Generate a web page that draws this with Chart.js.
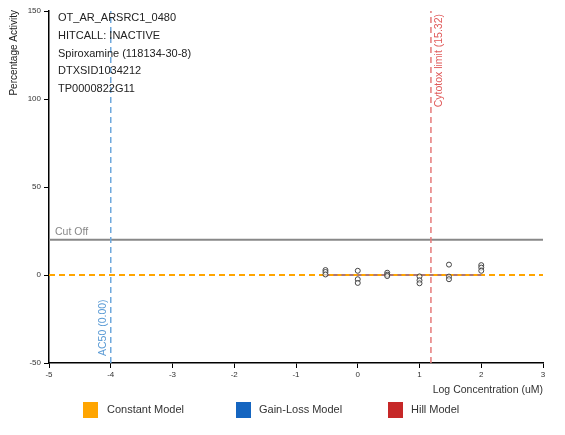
<!DOCTYPE html>
<html>
<head>
<meta charset="utf-8">
<script src="https://cdn.jsdelivr.net/npm/chart.js@4"></script>
<style>
html,body{margin:0;padding:0;background:#fff;}
#wrap{position:relative;width:565px;height:435px;}
</style>
</head>
<body>
<div id="wrap"><canvas id="c" width="565" height="435"></canvas></div>
<script>
// ---- data ----
const concLog = [-0.523, -0.523, -0.523, 0, 0, 0, 0.477, 0.477, 0.477, 1, 1, 1, 1.477, 1.477, 1.477, 2, 2, 2];
const responses = [2.8, 1.7, 0.3, 2.4, -2.4, -4.5, 1.3, 0.2, -0.6, -0.8, -3.0, -4.7, 5.9, -0.9, -2.4, 5.6, 4.2, 2.4];
const constantModelX = [-5, 3];
const constantModelY = [0, 0];
const fitLineX = [-0.523, 2];
const fitLineY = [0, 0];
const cutoffValue = 20;
const ac50Log = -4;
const ac50Label = "AC50 (0.00)";
const cytotoxLimit = 15.32;
const cytotoxLabel = "Cytotox limit (15.32)";
const xTicks = [-5, -4, -3, -2, -1, 0, 1, 2, 3];
const yTicks = [-50, 0, 50, 100, 150];
const infoLines = ["OT_AR_ARSRC1_0480", "HITCALL: INACTIVE", "Spiroxamine (118134-30-8)", "DTXSID1034212", "TP0000822G11"];
const legendLabels = ["Constant Model", "Gain-Loss Model", "Hill Model"];
const legendColors = ["#FFA500", "#1565C0", "#C62828"];

const FONT = "'Liberation Sans', Arial, sans-serif";
const xMin = xTicks[0], xMax = xTicks[xTicks.length - 1];
const yMin = yTicks[0], yMax = yTicks[yTicks.length - 1];
const cytoLog = Math.log10(cytotoxLimit);

const points = concLog.map((x, i) => ({x: x, y: responses[i]}));

const textPlugin = {
  id: 'texts',
  afterDraw(chart) {
    const ctx = chart.ctx;
    const xs = chart.scales.x, ys = chart.scales.y;
    ctx.save();
    // info block
    ctx.fillStyle = '#222';
    ctx.font = '11px ' + FONT;
    ctx.textBaseline = 'middle';
    ctx.textAlign = 'left';
    infoLines.forEach((t, i) => ctx.fillText(t, 58, 18 + i * 17.8));
    // cut off label
    ctx.fillStyle = '#888';
    ctx.font = '10.5px ' + FONT;
    ctx.fillText('Cut Off', xs.left + 6, ys.getPixelForValue(cutoffValue) - 8);
    // AC50 label
    ctx.save();
    ctx.translate(xs.getPixelForValue(ac50Log) - 8, ys.bottom - 7);
    ctx.rotate(-Math.PI / 2);
    ctx.fillStyle = '#5b9bd5';
    ctx.textAlign = 'left';
    ctx.fillText(ac50Label, 0, 0);
    ctx.restore();
    // Cytotox label
    ctx.save();
    ctx.translate(xs.getPixelForValue(cytoLog) + 8, ys.top + 3);
    ctx.rotate(-Math.PI / 2);
    ctx.fillStyle = '#e05a5a';
    ctx.textAlign = 'right';
    ctx.fillText(cytotoxLabel, 0, 0);
    ctx.restore();
    // y title
    ctx.save();
    ctx.translate(14, 10);
    ctx.rotate(-Math.PI / 2);
    ctx.fillStyle = '#222';
    ctx.font = '10px ' + FONT;
    ctx.textAlign = 'right';
    ctx.fillText('Percentage Activity', 0, 0);
    ctx.restore();
    // x title
    ctx.fillStyle = '#333';
    ctx.font = '10.5px ' + FONT;
    ctx.textAlign = 'right';
    ctx.fillText('Log Concentration (uM)', xs.right, 390);
    // legend
    const boxX = [83, 236, 388], labX = [107, 259, 411];
    ctx.font = '11px ' + FONT;
    ctx.textAlign = 'left';
    legendLabels.forEach((l, i) => {
      ctx.fillStyle = legendColors[i];
      ctx.fillRect(boxX[i], 402, 15, 16);
      ctx.fillStyle = '#333';
      ctx.fillText(l, labX[i], 410);
    });
    ctx.restore();
  }
};

new Chart(document.getElementById('c'), {
  type: 'scatter',
  data: {
    datasets: [
      {
        type: 'line', label: 'cutoff', order: 6,
        data: constantModelX.map(x => ({x: x, y: cutoffValue})),
        borderColor: '#888', borderWidth: 2, pointRadius: 0, fill: false
      },
      {
        type: 'line', label: 'ac50', order: 5,
        data: [{x: ac50Log, y: yMin}, {x: ac50Log, y: yMax}],
        borderColor: '#6fa8dc', borderWidth: 1.5, borderDash: [6, 4], pointRadius: 0
      },
      {
        type: 'line', label: 'cytotox', order: 5,
        data: [{x: cytoLog, y: yMin}, {x: cytoLog, y: yMax}],
        borderColor: '#e57a7a', borderWidth: 1.5, borderDash: [6, 4], pointRadius: 0
      },
      {
        type: 'line', label: 'constant', order: 4,
        data: constantModelX.map((x, i) => ({x: x, y: constantModelY[i]})),
        borderColor: '#FFA500', borderWidth: 2, borderDash: [6, 4], pointRadius: 0
      },
      {
        type: 'line', label: 'fit', order: 3,
        data: fitLineX.map((x, i) => ({x: x, y: fitLineY[i]})),
        borderColor: '#FFA500', borderWidth: 2, pointRadius: 0
      },
      {
        type: 'line', label: 'fit2', order: 2,
        data: fitLineX.map((x, i) => ({x: x, y: fitLineY[i]})),
        borderColor: 'rgba(140,100,170,0.7)', borderWidth: 2, borderDash: [4, 4], pointRadius: 0
      },
      {
        label: 'points', order: 0,
        data: points,
        pointRadius: 2.5, pointBorderWidth: 1,
        pointBorderColor: '#444', pointBackgroundColor: 'rgba(255,255,255,0.6)'
      }
    ]
  },
  options: {
    responsive: false,
    animation: false,
    layout: {padding: {left: 0, right: 22, top: 11, bottom: 0}},
    plugins: {legend: {display: false}, tooltip: {enabled: false}},
    scales: {
      x: {
        type: 'linear', min: xMin, max: xMax,
        afterBuildTicks: s => { s.ticks = xTicks.map(v => ({value: v})); },
        afterFit: s => { s.height = 72; },
        grid: {drawOnChartArea: false, drawTicks: true, tickLength: 5, color: '#000'},
        border: {display: true, color: '#000', width: 1.5},
        ticks: {color: '#333', font: {size: 8, family: FONT}, padding: 2, maxRotation: 0}
      },
      y: {
        type: 'linear', min: yMin, max: yMax,
        afterBuildTicks: s => { s.ticks = yTicks.map(v => ({value: v})); },
        afterFit: s => { s.width = 49; },
        grid: {drawOnChartArea: false, drawTicks: true, tickLength: 5, color: '#000'},
        border: {display: true, color: '#000', width: 1.5},
        ticks: {color: '#333', font: {size: 8, family: FONT}, padding: 3}
      }
    }
  },
  plugins: [textPlugin]
});
</script>
</body>
</html>
